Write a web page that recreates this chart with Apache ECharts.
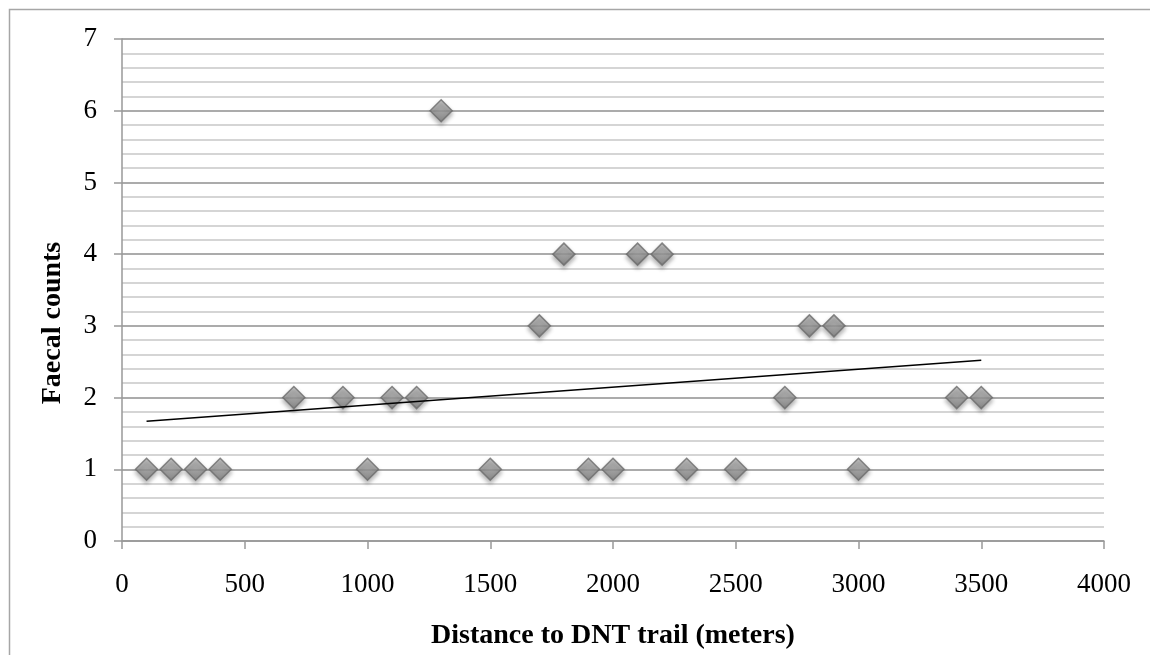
<!DOCTYPE html>
<html>
<head>
<meta charset="utf-8">
<script src="https://cdn.jsdelivr.net/npm/echarts@6/dist/echarts.min.js"></script>
<style>
  html, body { margin: 0; padding: 0; background: #fff; }
  #main { width: 1150px; height: 655px; }
</style>
</head>
<body>
<div id="main"></div>
<script>
// distance to trail (m) and faecal counts
var distances = [100, 200, 300, 400, 700, 900, 1000, 1100, 1200, 1300, 1500, 1700, 1800,
                 1900, 2000, 2100, 2200, 2300, 2500, 2700, 2800, 2900, 3000, 3400, 3500];
var counts = [1, 1, 1, 1, 2, 2, 1, 2, 2, 6, 1, 3, 4,
              1, 1, 4, 4, 1, 1, 2, 3, 3, 1, 2, 2];
// linear trendline end points
var trendX = [100, 3500];
var trendY = [1.67, 2.52];

var serif = '"Liberation Serif", "Times New Roman", serif';

var points = distances.map(function (d, i) { return [d, counts[i]]; });
var trend = trendX.map(function (d, i) { return [d, trendY[i]]; });

var myChart = echarts.init(document.getElementById('main'));
var option = {
  animation: false,
  backgroundColor: '#fff',
  graphic: [{
    type: 'rect',
    shape: { x: 9.5, y: 9.5, width: 1300, height: 800 },
    style: { fill: 'none', stroke: '#a6a6a6', lineWidth: 1.5 },
    silent: true
  }],
  grid: { left: 122, right: 46, top: 39, bottom: 114 },
  xAxis: {
    type: 'value',
    min: 0, max: 4000, interval: 500,
    name: 'Distance to DNT trail (meters)',
    nameLocation: 'middle',
    nameGap: 81,
    nameTextStyle: { fontFamily: serif, fontWeight: 'bold', fontSize: 28, color: '#000' },
    axisLine: { show: true, lineStyle: { color: '#999', width: 1.5 } },
    axisTick: { show: true, length: 8, lineStyle: { color: '#999', width: 1.5 } },
    axisLabel: {
      fontFamily: serif, fontSize: 27, color: '#000', margin: 30,
      formatter: function (v) { return String(v); }
    },
    splitLine: { show: false }
  },
  yAxis: {
    type: 'value',
    min: 0, max: 7, interval: 1,
    name: 'Faecal counts',
    nameLocation: 'middle',
    nameGap: 55,
    nameTextStyle: {
      fontFamily: serif, fontWeight: 'bold', fontSize: 28, color: '#000',
      padding: [0, 66, 0, 0]
    },
    axisLine: { show: true, lineStyle: { color: '#999', width: 1.5 } },
    axisTick: { show: true, length: 8, lineStyle: { color: '#999', width: 1.5 } },
    axisLabel: { fontFamily: serif, fontSize: 27, color: '#000', margin: 25 },
    splitLine: { show: true, lineStyle: { color: '#8f8f8f', width: 1.5 } },
    minorTick: { show: false, splitNumber: 5 },
    minorSplitLine: { show: true, lineStyle: { color: '#c8c8c8', width: 1.5 } }
  },
  series: [
    {
      type: 'scatter',
      data: points,
      symbol: 'diamond',
      symbolSize: [22, 22],
      z: 3,
      itemStyle: {
        color: new echarts.graphic.LinearGradient(0, 0, 0, 1, [
          { offset: 0, color: '#bdbdbd' },
          { offset: 1, color: '#7b7b7b' }
        ]),
        borderColor: '#6b6b6b',
        borderWidth: 1.5,
        shadowColor: 'rgba(0,0,0,0.35)',
        shadowBlur: 4,
        shadowOffsetY: 3
      }
    },
    {
      type: 'line',
      data: trend,
      symbol: 'none',
      z: 4,
      lineStyle: { color: '#000', width: 1.5 }
    }
  ]
};
myChart.setOption(option);
</script>
</body>
</html>
